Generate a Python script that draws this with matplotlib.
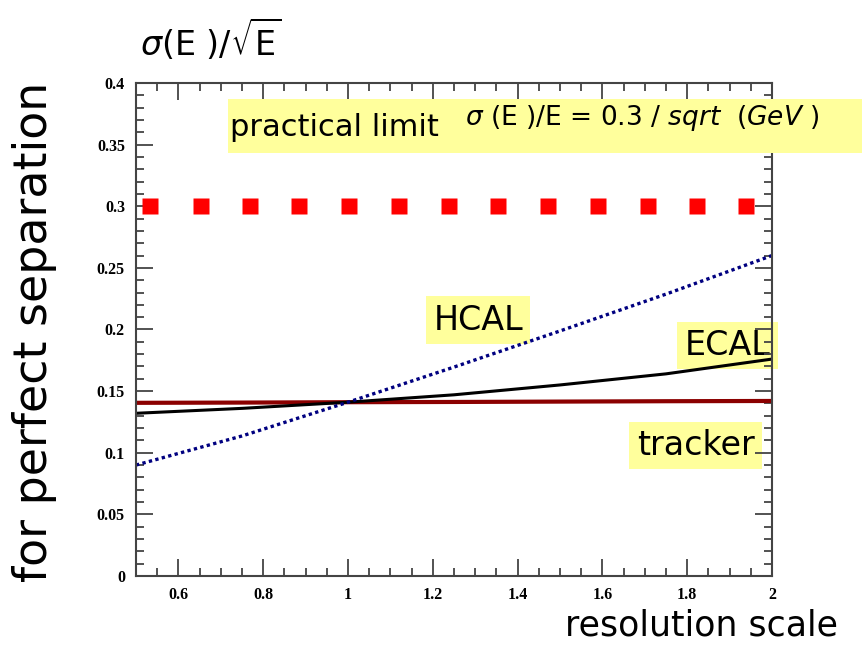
import matplotlib.pyplot as plt
import numpy as np
from matplotlib.patches import Rectangle
from matplotlib.ticker import MultipleLocator

# resolution scale factor and resulting sigma(E)/sqrt(E)
scale = [0.5, 0.75, 1.0, 1.25, 1.5, 1.75, 2.0]
hcal = [0.090, 0.1136, 0.141, 0.1695, 0.1988, 0.2287, 0.260]
ecal = [0.132, 0.136, 0.141, 0.147, 0.155, 0.164, 0.176]
tracker = [0.1405, 0.1407, 0.141, 0.1412, 0.1415, 0.1418, 0.142]

# practical limit 0.3/sqrt(GeV), drawn as a row of squares
limit_x = [0.533, 0.653, 0.769, 0.884, 1.002, 1.120, 1.238,
           1.354, 1.472, 1.590, 1.708, 1.823, 1.939]
limit_y = [0.3] * len(limit_x)

label_font = 'DejaVu Sans'
yellow = '#ffff9c'
box = dict(boxstyle='square,pad=0.22', fc=yellow, ec='none')

fig = plt.figure(figsize=(8.64, 6.46), dpi=100)
ax = fig.add_axes([0.1574, 0.1084, 0.7361, 0.7631])

ax.plot(limit_x, limit_y, ls='none', marker='s', ms=11.5, color='#ff0000', mec='none')
ax.plot(scale, tracker, color='#8b0000', lw=3)
ax.plot(scale, ecal, color='black', lw=2.2)
ax.plot(scale, hcal, color='#000080', lw=2.4, ls=(0, (1, 1)))

ax.set_xlim(0.5, 2)
ax.set_ylim(0, 0.4)
ax.xaxis.set_minor_locator(MultipleLocator(0.05))
ax.yaxis.set_minor_locator(MultipleLocator(0.01))
ax.set_xticks(np.arange(0.6, 2.01, 0.2))
ax.set_xticklabels(['0.6', '0.8', '1', '1.2', '1.4', '1.6', '1.8', '2'])
ax.set_yticks(np.arange(0, 0.401, 0.05))
ax.set_yticklabels(['0', '0.05', '0.1', '0.15', '0.2', '0.25', '0.3', '0.35', '0.4'])
ax.tick_params(which='both', direction='in', top=True, right=True, color='#444444', width=1.3)
ax.tick_params(which='major', length=12, pad=8)
ax.tick_params(which='minor', length=6)
for lab in ax.get_xticklabels() + ax.get_yticklabels():
    lab.set_fontfamily('Liberation Serif')
    lab.set_fontweight('bold')
    lab.set_fontsize(11.5)
for sp in ax.spines.values():
    sp.set_color('#444444')
    sp.set_linewidth(1.5)

# practical limit banner
fig.patches.append(Rectangle((0.264, 0.763), 0.734, 0.084, transform=fig.transFigure,
                             fc=yellow, ec='none', zorder=0))
fig.text(0.266, 0.802, 'practical limit', fontsize=22, family=label_font,
         va='center', ha='left')
fig.text(0.538, 0.818, r'$\sigma$ (E )/E = 0.3 / $\it{sqrt}$  ($\it{GeV}$ )', fontsize=19,
         family=label_font, va='center', ha='left')

# curve labels sit underneath the lines
ax.text(1.307, 0.2077, 'HCAL', fontsize=24, family=label_font, va='center', ha='center',
        bbox=box, zorder=1)
ax.text(1.895, 0.187, 'ECAL', fontsize=24, family=label_font, va='center', ha='center',
        bbox=box, zorder=1)
ax.text(1.820, 0.1059, 'tracker', fontsize=24, family=label_font, va='center', ha='center',
        bbox=box, zorder=1)

fig.text(0.162, 0.940, r'$\sigma$(E )/$\sqrt{\mathsf{E}}$', fontsize=24, family=label_font,
         va='center', ha='left')
fig.text(0.040, 0.487, 'for perfect separation', fontsize=33, family=label_font,
         rotation=90, va='center', ha='center')
fig.text(0.970, 0.005, 'resolution scale', fontsize=25, family=label_font,
         va='bottom', ha='right')

fig.savefig('out.png', dpi=100)
